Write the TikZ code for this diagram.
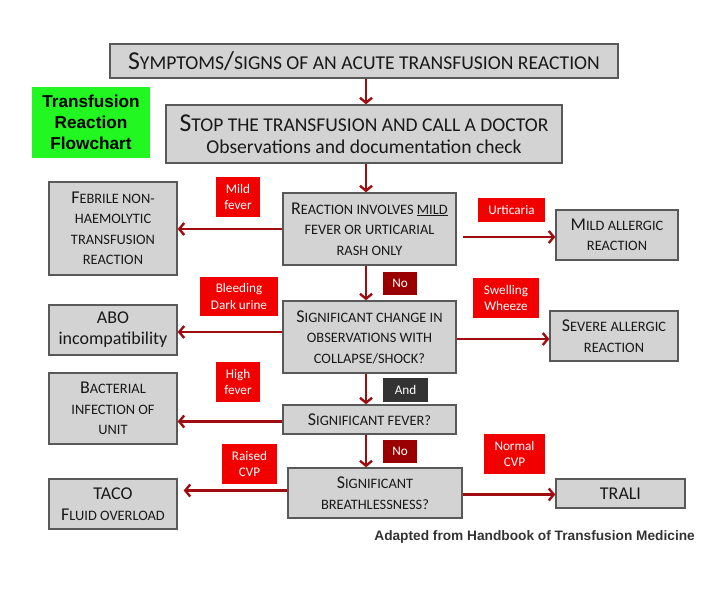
\documentclass[tikz,border=0pt]{standalone}
\usepackage{fontspec}
\setmainfont{Carlito}
\newfontfamily\arialfont{Liberation Sans}
\usetikzlibrary{arrows.meta}
\makeatletter
\newcommand\mysc[1]{{\fontsize{\the\dimexpr0.8\dimexpr\f@size pt\relax\relax}{\f@baselineskip}\selectfont #1}}
\newcommand\mybigsc[1]{{\fontsize{\the\dimexpr0.76\dimexpr\f@size pt\relax\relax}{\f@baselineskip}\selectfont #1}}
\makeatother
\definecolor{boxgray}{HTML}{D3D3D3}
\definecolor{boxline}{HTML}{595959}
\definecolor{arrowred}{HTML}{A00D10}
\definecolor{labred}{HTML}{F20000}
\definecolor{labdark}{HTML}{9A0000}
\definecolor{labgray}{HTML}{333333}
\definecolor{greenbox}{HTML}{22F722}
\tikzset{
  gbox/.style={draw=boxline, fill=boxgray, line width=1.3pt, align=center, inner sep=0pt,
    text=black!90, font={\fontsize{18}{20.5}\selectfont}},
  lab/.style={fill=labred, text=white, align=center, inner sep=0pt,
    font={\fontsize{13.2}{16.5}\selectfont}},
  flow/.style={draw=arrowred, line width=2.4pt, -{Straight Barb[length=5pt,width=12pt]}},
}
\begin{document}
\begin{tikzpicture}[x=1pt,y=-1pt]
\useasboundingbox (0,0) rectangle (723,592);
% boxes
\node[gbox, minimum width=508pt, minimum height=34pt, font={\fontsize{25.8}{27}\selectfont}] (top) at (364,61)
  {S\mybigsc{YMPTOMS}/\mybigsc{SIGNS OF AN ACUTE TRANSFUSION REACTION}};
\node[gbox, minimum width=396pt, minimum height=58pt, font={\fontsize{25.7}{22}\selectfont}] (stop) at (364,134)
  {S\mybigsc{TOP THE TRANSFUSION AND CALL A DOCTOR}\\ {\fontsize{19.6}{22}\selectfont Observations and documentation check}};
\node[fill=greenbox, minimum width=118pt, minimum height=71pt, inner sep=0pt, align=center,
  font={\arialfont\bfseries\fontsize{17.2}{21}\selectfont}] (green) at (91,122.5)
  {Transfusion\\Reaction\\Flowchart};
\node[gbox, minimum width=173pt, minimum height=72pt] (react) at (369.5,229)
  {R\mysc{EACTION INVOLVES \underline{MILD}}\\ \mysc{FEVER OR URTICARIAL}\\ \mysc{RASH ONLY}};
\node[gbox, minimum width=128pt, minimum height=93pt] (febrile) at (113,228.5)
  {F\mysc{EBRILE NON-}\\ \mysc{HAEMOLYTIC}\\ \mysc{TRANSFUSION}\\ \mysc{REACTION}};
\node[gbox, minimum width=122pt, minimum height=50pt] (mildall) at (617,235)
  {M\mysc{ILD ALLERGIC}\\ \mysc{REACTION}};
\node[gbox, minimum width=173pt, minimum height=72pt] (sigch) at (369.5,337)
  {S\mysc{IGNIFICANT CHANGE IN}\\ \mysc{OBSERVATIONS WITH}\\ \mysc{COLLAPSE/SHOCK?}};
\node[gbox, minimum width=128pt, minimum height=50pt, font={\fontsize{18}{21}\selectfont}] (abo) at (113,330)
  {ABO\\incompatibility};
\node[gbox, minimum width=128pt, minimum height=50pt] (severe) at (614,336)
  {S\mysc{EVERE ALLERGIC}\\ \mysc{REACTION}};
\node[gbox, minimum width=173pt, minimum height=29pt] (sigfev) at (369.5,419.5)
  {S\mysc{IGNIFICANT FEVER?}};
\node[gbox, minimum width=128pt, minimum height=71pt] (bact) at (113,408.5)
  {B\mysc{ACTERIAL}\\ \mysc{INFECTION OF}\\ \mysc{UNIT}};
\node[gbox, minimum width=174pt, minimum height=50pt] (sigbr) at (375,493)
  {S\mysc{IGNIFICANT}\\ \mysc{BREATHLESSNESS?}};
\node[gbox, minimum width=128pt, minimum height=50pt] (taco) at (113,504)
  {TACO\\ F\mysc{LUID OVERLOAD}};
\node[gbox, minimum width=129pt, minimum height=29pt] (trali) at (620.5,493.5)
  {TRALI};
% labels
\node[lab, minimum width=44pt, minimum height=40pt] (l1) at (238,197) {Mild\\fever};
\node[lab, minimum width=67pt, minimum height=24pt] (l2) at (511.5,210) {Urticaria};
\node[lab, minimum width=78pt, minimum height=39pt] (l3) at (239,296.5) {Bleeding\\Dark urine};
\node[lab, minimum width=66pt, minimum height=40pt] (l4) at (506,298) {Swelling\\Wheeze};
\node[lab, minimum width=44pt, minimum height=40pt] (l5) at (238,382) {High\\fever};
\node[lab, minimum width=55pt, minimum height=40pt] (l6) at (249.5,464) {Raised\\CVP};
\node[lab, minimum width=61pt, minimum height=40pt] (l7) at (514.5,454) {Normal\\CVP};
\node[lab, fill=labdark, minimum width=34pt, minimum height=23pt] (no1) at (400,283.5) {No};
\node[lab, fill=labgray, minimum width=45pt, minimum height=24pt] (and) at (405.5,390) {And};
\node[lab, fill=labdark, minimum width=34pt, minimum height=23pt] (no2) at (400,451.5) {No};
% footnote
\node[anchor=east, inner sep=0pt, text=labgray, font={\arialfont\bfseries\fontsize{13.7}{15}\selectfont}] (foot) at (695,537)
  {Adapted from Handbook of Transfusion Medicine};
% connectors
\draw[flow] ([xshift=2pt]top.south) -- ([xshift=2pt]top.south |- stop.north);
\draw[flow] ([xshift=-3.5pt]react.north |- stop.south) -- ([xshift=-3.5pt]react.north);
\draw[flow] ([xshift=-3.5pt]react.south) -- ([xshift=-3.5pt]react.south |- sigch.north);
\draw[flow] ([xshift=-3.5pt]sigch.south) -- ([xshift=-3.5pt]sigch.south |- sigfev.north);
\draw[flow] ([xshift=-3.5pt]sigfev.south) -- ([xshift=-3.5pt]sigfev.south |- sigbr.north);
\draw[flow] (react.west) -- (react.west -| febrile.east);
\draw[flow] ([xshift=6pt,yshift=-2pt]react.east |- mildall.west) -- ([yshift=-2pt]mildall.west);
\draw[flow] ([yshift=-2pt]sigch.west |- abo.east) -- ([yshift=-2pt]abo.east);
\draw[flow] ([yshift=-3pt]sigch.east |- severe.west) -- ([yshift=-3pt]severe.west);
\draw[flow] ([yshift=-2pt]sigfev.west) -- ([yshift=-2pt]sigfev.west -| bact.east);
\draw[flow] ([yshift=2.5pt]sigbr.west) -- ([xshift=6pt,yshift=2.5pt]sigbr.west -| taco.east);
\draw[flow] ([yshift=-1.5pt]sigbr.east) -- ([yshift=-1.5pt]sigbr.east -| trali.west);
\end{tikzpicture}
\end{document}
